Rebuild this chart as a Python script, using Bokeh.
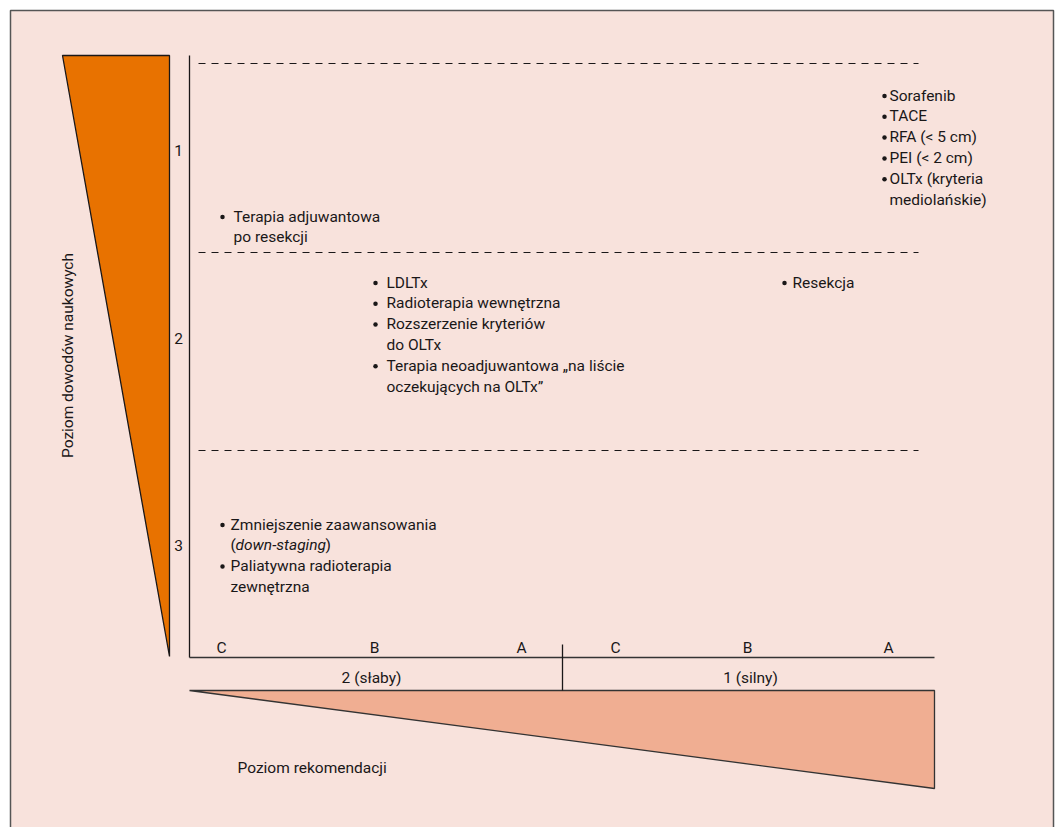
import math
from bokeh.plotting import figure
from bokeh.models import Range1d
from bokeh.core.properties import value
from bokeh.embed import file_html
from bokeh.resources import INLINE

# ---------------- data (texts / labels) ----------------
evidence_levels = ["1", "2", "3"]
grade_labels = ["C", "B", "A", "C", "B", "A"]
strength_labels = ["2 (słaby)", "1 (silny)"]
x_title = "Poziom rekomendacji"
y_title = "Poziom dowodów naukowych"

# each item = list of lines of one bullet
items_l1_strongA = [["Sorafenib"], ["TACE"], ["RFA (< 5 cm)"], ["PEI (< 2 cm)"],
                    ["OLTx (kryteria", "mediolańskie)"]]
items_l1_weakC = [["Terapia adjuwantowa", "po resekcji"]]
items_l2_weakB = [["LDLTx"], ["Radioterapia wewnętrzna"], ["Rozszerzenie kryteriów", "do OLTx"],
                  ["Terapia neoadjuwantowa „na liście", "oczekujących na OLTx”"]]
items_l2_strongB = [["Resekcja"]]
items_l3_weakC = [["Zmniejszenie zaawansowania", "(down-staging)"],
                  ["Paliatywna radioterapia", "zewnętrzna"]]

# ---------------- layout / style ----------------
W, H = 1058, 827
FONT = value("Roboto")
FS = "15.5px"
INK = "#1a1718"
BG = "#f8e2dc"
ORANGE = "#e87200"
SALMON = "#f0ae92"

p = figure(width=W, height=H, output_backend="svg", toolbar_location=None,
           x_range=Range1d(0, W), y_range=Range1d(H, 0),
           min_border=0, outline_line_color=None)
p.axis.visible = False
p.grid.visible = False
p.background_fill_color = "white"
p.border_fill_color = "white"

# frame
p.quad(left=[10], right=[1053], top=[10], bottom=[840], fill_color=BG,
       line_color="#555555", line_width=1.5)

# evidence triangle (vertical)
y_top, y_bot = 55, 656
p.patch([62, 169, 169], [y_top, y_top, y_bot], fill_color=ORANGE, line_color=INK, line_width=1.3)

# recommendation triangle (horizontal)
x0, x1 = 189, 934
p.patch([x0, x1, x1], [690, 690, 788], fill_color=SALMON, line_color="#333333", line_width=1.3)

# axes
p.line([x0, x0], [y_top, 657], line_color=INK, line_width=1.3)
p.line([x0, x1], [657, 657], line_color="#333333", line_width=1.3)
p.line([562, 562], [644, 690], line_color=INK, line_width=1.3)

# dashed level separators
dash_y = [63, 252, 450]
p.segment(x0=[198] * len(dash_y), x1=[918] * len(dash_y), y0=dash_y, y1=dash_y,
          line_color=INK, line_width=1.1, line_dash="7 6")

# level numbers
p.text(x=[178, 178, 178], y=[150, 338, 545], text=evidence_levels, text_font=FONT,
       text_font_size=FS, text_color=INK, text_align="center", text_baseline="middle")

# grade labels
p.text(x=[221, 374, 521, 615, 747, 888], y=[647] * 6, text=grade_labels, text_font=FONT,
       text_font_size=FS, text_color=INK, text_align="center", text_baseline="middle")

# strength labels
p.text(x=[371, 750], y=[677, 677], text=strength_labels, text_font=FONT,
       text_font_size=FS, text_color=INK, text_align="center", text_baseline="middle")

# titles
p.text(x=[237], y=[767], text=[x_title], text_font=FONT, text_font_size=FS,
       text_color=INK, text_align="left", text_baseline="middle")
p.text(x=[67], y=[355], text=[y_title], text_font=FONT, text_font_size=FS,
       text_color=INK, text_align="center", text_baseline="middle", angle=math.pi / 2)


def bullets(items, bx, tx, y0, step=20.8, italic_paren=False):
    xs, ys, ts = [], [], []
    bxs, bys = [], []
    y = y0
    for it in items:
        bxs.append(bx)
        bys.append(y + 0.5)
        for line in it:
            if italic_paren and line.startswith("(") and line.endswith(")"):
                inner = line[1:-1]
                p.text(x=[tx], y=[y], text=["("], text_font=FONT, text_font_size=FS,
                       text_color=INK, text_baseline="middle")
                p.text(x=[tx + 5], y=[y], text=[inner], text_font=FONT, text_font_size=FS,
                       text_font_style="italic", text_color=INK, text_baseline="middle")
                p.text(x=[tx + 95], y=[y], text=[")"], text_font=FONT, text_font_size=FS,
                       text_color=INK, text_baseline="middle")
            else:
                xs.append(tx)
                ys.append(y)
                ts.append(line)
            y += step
    p.text(x=xs, y=ys, text=ts, text_font=FONT, text_font_size=FS, text_color=INK,
           text_align="left", text_baseline="middle")
    p.scatter(x=bxs, y=bys, marker="circle", size=4.5, fill_color=INK, line_color=None)


bullets(items_l1_strongA, 884, 889, 95)
bullets(items_l1_weakC, 222, 233, 216)
bullets(items_l2_weakB, 375, 386, 282)
bullets(items_l2_strongB, 784, 792, 282)
bullets(items_l3_weakC, 222, 230, 524, italic_paren=True)

open("out.html", "w").write(file_html(p, INLINE))
